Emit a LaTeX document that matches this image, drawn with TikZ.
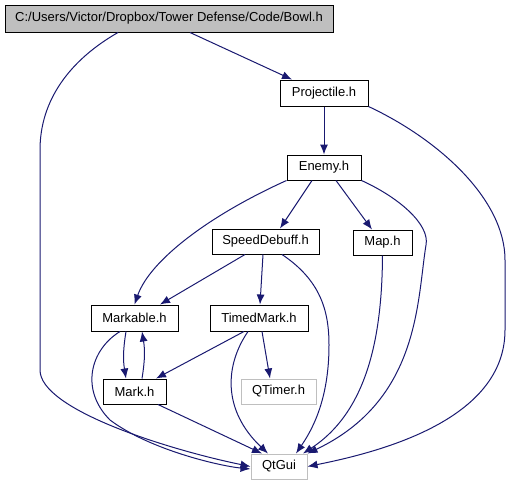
\documentclass[tikz,border=0pt]{standalone}
\usepackage{fontspec}
\setmainfont{Liberation Sans}
\usetikzlibrary{arrows.meta}
\definecolor{edgeblue}{HTML}{191970}
\definecolor{headgray}{HTML}{BFBFBF}

\begin{document}
\begin{tikzpicture}%
  [x=1pt,y=-1pt,
   file/.style=
    {draw=black,fill=white,line width=1pt,minimum height=25pt,inner sep=0pt,
     font=\fontsize{13}{15}\selectfont},
   root/.style=
    {file,fill=headgray},
   extern/.style=
    {file,draw=headgray},
   dep/.style={edgeblue,line width=1pt,-{Latex[length=10pt,width=8pt]}}
  ]
  \useasboundingbox (0,0) rectangle (511,485);
  \node[root,minimum width=328pt,minimum height=27pt] (bowl) at (169,18.5)
    {C:/Users/Victor/Dropbox/Tower Defense/Code/Bowl.h};
  \node[file,minimum width=88pt,minimum height=26pt] (proj) at (324,93) {Projectile.h};
  \node[file,minimum width=74pt] (enemy) at (324,167.5) {Enemy.h};
  \node[file,minimum width=107pt] (speed) at (265.5,241.5) {SpeedDebuff.h};
  \node[file,minimum width=59pt] (map) at (382.5,242.5) {Map.h};
  \node[file,minimum width=87pt,minimum height=26pt] (markable) at (134.5,318) {Markable.h};
  \node[file,minimum width=98pt,minimum height=26pt] (timed) at (259,318) {TimedMark.h};
  \node[file,minimum width=63pt] (mark) at (134.5,391.5) {Mark.h};
  \node[extern,minimum width=75pt] (qtimer) at (278.5,391.5) {QTimer.h};
  \node[extern,minimum width=56pt] (qtgui) at (279,466.5) {QtGui};

  % Bowl.h
  \draw[dep] (bowl.south -| 190,0) -- (proj.north west -| 292,0);
  \draw[dep] (bowl.south -| 118,0) .. controls (70,60) and (40,100) .. (40,150)
    -- (40,370) .. controls (40,410) and (170,450) .. (qtgui.west);
  % Projectile.h
  \draw[dep] (proj) -- (enemy);
  \draw[dep] (proj.south east) .. controls (440,140) and (505,200) .. (505,260)
    -- (505,330) .. controls (505,420) and (380,452) .. (qtgui.east);
  % Enemy.h
  \draw[dep] (enemy.south west) .. controls (210,215) and (150,260) .. (markable.north);
  \draw[dep] (enemy.south -| 312,0) -- (speed.north -| 280,0);
  \draw[dep] (enemy.south -| 336,0) -- (map.north -| 372,0);
  \draw[dep] (enemy.south east) .. controls (400,198) and (430,225) .. (426,245)
    .. controls (417,300) and (420,400) .. (qtgui.north east);
  % SpeedDebuff.h
  \draw[dep] (speed.south -| 245,0) -- (markable.north -| 160,0);
  \draw[dep] (speed.south -| 263,0) -- (timed.north -| 260,0);
  \draw[dep] (speed.south -| 282,0) .. controls (320,280) and (329,310) .. (329,345)
    .. controls (329,400) and (312,430) .. (qtgui.north -| 296,0);
  % Map.h
  \draw[dep] (map.south) .. controls (382,330) and (370,410) .. (qtgui.north -| 303,0);
  % Markable.h
  \draw[dep] (markable.south -| 126,0) .. controls (123,350) and (123,360) .. (mark.north -| 126,0);
  \draw[dep] (markable.south -| 120,0) .. controls (90,350) and (80,390) .. (110,420)
    .. controls (150,450) and (220,466) .. (qtgui.west |- 0,469);
  % Mark.h
  \draw[dep] (mark.north -| 142,0) .. controls (145,360) and (145,350) .. (markable.south -| 142,0);
  \draw[dep] (mark.south -| 158,0) -- (qtgui.north -| 262,0);
  % TimedMark.h
  \draw[dep] (timed.south -| 244,0) -- (mark.north -| 156,0);
  \draw[dep] (timed.south -| 248,0) .. controls (225,365) and (222,410) .. (qtgui.north -| 268,0);
  \draw[dep] (timed.south -| 262,0) -- (qtimer.north -| 270,0);
\end{tikzpicture}
\end{document}
